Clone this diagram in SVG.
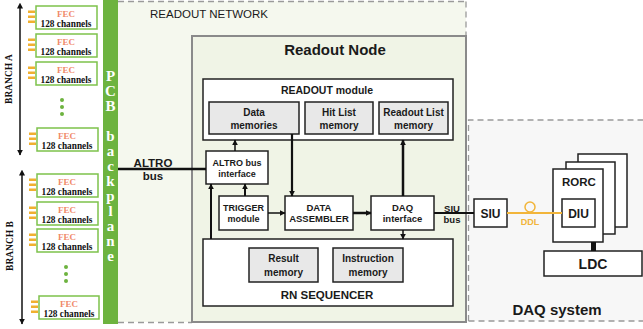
<svg xmlns="http://www.w3.org/2000/svg" width="643" height="329" viewBox="0 0 643 329">
<style>
.sans{font-family:"Liberation Sans",Arial,sans-serif;font-weight:bold;fill:#1a1a1a;text-anchor:middle}
.serif{font-family:"Liberation Serif","Times New Roman",serif;font-weight:bold;text-anchor:middle}
.fec{fill:#fff;stroke:#7dc24b;stroke-width:1.5}
.fect{fill:#f0896a;font-size:9px}
.chn{fill:#111;font-size:9.3px}
.pin{fill:#f0b030}
.dot{fill:#6db33f}
.box{fill:#fff;stroke:#222;stroke-width:1.5}
.mem{fill:#e8e8e8;stroke:#222;stroke-width:1.5}
.dash{fill:none;stroke:#9a9a9a;stroke-width:1.3;stroke-dasharray:6 4}
.pcb{fill:#fff;font-size:15px;writing-mode:vertical-rl;text-orientation:upright;text-anchor:start;font-family:"Liberation Serif","Times New Roman",serif;font-weight:bold}
.c{stroke:#111;fill:none}
</style>
<defs>
<marker id="ah" viewBox="0 0 10 10" refX="9" refY="5" markerWidth="6" markerHeight="6" markerUnits="userSpaceOnUse" orient="auto">
<path d="M0,0 L10,5 L0,10 z" fill="#111"/>
</marker>
<marker id="ah2" viewBox="0 0 10 10" refX="1" refY="5" markerWidth="6" markerHeight="6" markerUnits="userSpaceOnUse" orient="auto-start-reverse">
<path d="M0,0 L10,5 L0,10 z" fill="#111"/>
</marker>
</defs>
<rect width="643" height="329" fill="#fff"/>

<!-- Readout network area -->
<g id="readout-network">
<rect x="118" y="1" width="348" height="321" fill="#f5f8ee"/>
<path class="dash" d="M118,1.5 H466 M466,1.5 V36 M118,322.5 H192"/>
<text x="150" y="18" style="font-family:'Liberation Sans',Arial,sans-serif;font-size:11.5px;fill:#1a1a1a">READOUT NETWORK</text>
</g>

<!-- DAQ system area -->
<g id="daq-system">
<rect x="468.5" y="120" width="180" height="201" fill="#f7f7f7"/>
<path class="dash" d="M468.5,321 V120 H643 M468.5,321 H643"/>
<text class="sans" x="557" y="315" style="font-size:15px">DAQ system</text>
</g>

<!-- Readout node -->
<g id="readout-node">
<rect x="192" y="36" width="274" height="286" fill="#f0f4e6" stroke="#8a8a8a" stroke-width="2"/>
<text class="sans" x="335" y="55" style="font-size:15px">Readout Node</text>
</g>

<!-- PCB backplane -->
<g id="pcb-backplane">
<rect x="103" y="0" width="15" height="324" fill="#6db33f"/>
<text class="pcb" x="110.5" y="68" letter-spacing="-1">PCB backplane</text>
</g>

<!-- Branch A -->
<g id="branch-a">
<line x1="20" y1="8" x2="20" y2="155" class="c" stroke-width="1.5" marker-start="url(#ah2)" marker-end="url(#ah)"/>
<text class="serif" x="0" y="0" transform="translate(12,79) rotate(-90)" style="font-size:9.5px;fill:#111">BRANCH A</text>
</g>
<g id="fec-a1"><rect class="fec" x="36" y="6" width="61" height="23"/><rect class="pin" x="28" y="10.5" width="7" height="2.5"/><rect class="pin" x="28" y="15.5" width="7" height="2.5"/><rect class="pin" x="28" y="20.5" width="7" height="2.5"/><text class="serif fect" x="66" y="16.5">FEC</text><text class="serif chn" x="66" y="27">128 channels</text></g>
<g id="fec-a2"><rect class="fec" x="36" y="34" width="61" height="23"/><rect class="pin" x="28" y="38.5" width="7" height="2.5"/><rect class="pin" x="28" y="43.5" width="7" height="2.5"/><rect class="pin" x="28" y="48.5" width="7" height="2.5"/><text class="serif fect" x="66" y="44.5">FEC</text><text class="serif chn" x="66" y="55">128 channels</text></g>
<g id="fec-a3"><rect class="fec" x="36" y="62" width="61" height="23"/><rect class="pin" x="28" y="66.5" width="7" height="2.5"/><rect class="pin" x="28" y="71.5" width="7" height="2.5"/><rect class="pin" x="28" y="76.5" width="7" height="2.5"/><text class="serif fect" x="66" y="72.5">FEC</text><text class="serif chn" x="66" y="83">128 channels</text></g>
<g id="dots-a"><circle class="dot" cx="62" cy="100" r="2"/><circle class="dot" cx="62" cy="107" r="2"/><circle class="dot" cx="62" cy="114" r="2"/></g>
<g id="fec-a4"><rect class="fec" x="37" y="128" width="61" height="23"/><rect class="pin" x="29" y="132.5" width="7" height="2.5"/><rect class="pin" x="29" y="137.5" width="7" height="2.5"/><rect class="pin" x="29" y="142.5" width="7" height="2.5"/><text class="serif fect" x="67" y="138.5">FEC</text><text class="serif chn" x="67" y="149">128 channels</text></g>

<!-- Branch B -->
<g id="branch-b">
<line x1="22" y1="175" x2="22" y2="324" class="c" stroke-width="1.5" marker-start="url(#ah2)" marker-end="url(#ah)"/>
<text class="serif" x="0" y="0" transform="translate(13,246) rotate(-90)" style="font-size:9.5px;fill:#111">BRANCH B</text>
</g>
<g id="fec-b1"><rect class="fec" x="37" y="174" width="61" height="23"/><rect class="pin" x="29" y="178.5" width="7" height="2.5"/><rect class="pin" x="29" y="183.5" width="7" height="2.5"/><rect class="pin" x="29" y="188.5" width="7" height="2.5"/><text class="serif fect" x="67" y="184.5">FEC</text><text class="serif chn" x="67" y="195">128 channels</text></g>
<g id="fec-b2"><rect class="fec" x="37" y="202" width="61" height="23"/><rect class="pin" x="29" y="206.5" width="7" height="2.5"/><rect class="pin" x="29" y="211.5" width="7" height="2.5"/><rect class="pin" x="29" y="216.5" width="7" height="2.5"/><text class="serif fect" x="67" y="212.5">FEC</text><text class="serif chn" x="67" y="223">128 channels</text></g>
<g id="fec-b3"><rect class="fec" x="37" y="229" width="61" height="23"/><rect class="pin" x="29" y="233.5" width="7" height="2.5"/><rect class="pin" x="29" y="238.5" width="7" height="2.5"/><rect class="pin" x="29" y="243.5" width="7" height="2.5"/><text class="serif fect" x="67" y="239.5">FEC</text><text class="serif chn" x="67" y="250">128 channels</text></g>
<g id="dots-b"><circle class="dot" cx="66" cy="267" r="2"/><circle class="dot" cx="66" cy="274" r="2"/><circle class="dot" cx="66" cy="281" r="2"/></g>
<g id="fec-b4"><rect class="fec" x="39" y="296" width="60" height="23"/><rect class="pin" x="31" y="300.5" width="7" height="2.5"/><rect class="pin" x="31" y="305.5" width="7" height="2.5"/><rect class="pin" x="31" y="310.5" width="7" height="2.5"/><text class="serif fect" x="69" y="306.5">FEC</text><text class="serif chn" x="69" y="317">128 channels</text></g>

<!-- READOUT module -->
<g id="readout-module">
<rect class="box" x="203" y="79" width="250" height="61"/>
<text class="sans" x="327" y="94" style="font-size:10.5px">READOUT module</text>
</g>
<g id="data-memories"><rect class="mem" x="209" y="102" width="90" height="32"/><text class="sans" x="254" y="116" style="font-size:10px">Data</text><text class="sans" x="254" y="128.5" style="font-size:10px">memories</text></g>
<g id="hit-list"><rect class="mem" x="305" y="102" width="68" height="32"/><text class="sans" x="339" y="116" style="font-size:10px">Hit List</text><text class="sans" x="339" y="128.5" style="font-size:10px">memory</text></g>
<g id="readout-list"><rect class="mem" x="379" y="102" width="69" height="32"/><text class="sans" x="413.5" y="116" style="font-size:10px">Readout List</text><text class="sans" x="413.5" y="128.5" style="font-size:10px">memory</text></g>

<g id="altro-if"><rect class="box" x="206" y="151" width="62" height="33"/><text class="sans" x="237" y="165.5" style="font-size:9px">ALTRO bus</text><text class="sans" x="237" y="176.5" style="font-size:9px">interface</text></g>
<g id="trigger"><rect class="box" x="219" y="196" width="49" height="34"/><text class="sans" x="243.5" y="210.5" style="font-size:9px">TRIGGER</text><text class="sans" x="243.5" y="221.5" style="font-size:9px">module</text></g>
<g id="data-assembler"><rect class="box" x="285" y="196" width="68" height="34"/><text class="sans" x="319" y="210.5" style="font-size:9.5px">DATA</text><text class="sans" x="319" y="221.5" style="font-size:9.5px">ASSEMBLER</text></g>
<g id="daq-if"><rect class="box" x="371" y="196" width="63" height="34"/><text class="sans" x="402.5" y="210.5" style="font-size:9.5px">DAQ</text><text class="sans" x="402.5" y="221.5" style="font-size:9.5px">interface</text></g>

<g id="rn-sequencer">
<rect class="box" x="203" y="239" width="250" height="67"/>
<text class="sans" x="327" y="299" style="font-size:11.5px">RN SEQUENCER</text>
</g>
<g id="result-memory"><rect class="mem" x="249" y="248" width="69" height="34"/><text class="sans" x="283.5" y="262" style="font-size:10px">Result</text><text class="sans" x="283.5" y="275.5" style="font-size:10px">memory</text></g>
<g id="instruction-memory"><rect class="mem" x="333" y="248" width="70" height="34"/><text class="sans" x="368" y="262" style="font-size:10px">Instruction</text><text class="sans" x="368" y="275.5" style="font-size:10px">memory</text></g>

<g id="siu"><rect class="box" x="474" y="199" width="33" height="28"/><text class="sans" x="490.5" y="217.5" style="font-size:12px">SIU</text></g>

<g id="rorc">
<rect class="box" x="578" y="154" width="49" height="73"/>
<rect class="box" x="566" y="162" width="49" height="72"/>
<rect class="box" x="553" y="169" width="50" height="73"/>
<text class="sans" x="579" y="186" style="font-size:11.5px">RORC</text>
</g>
<g id="diu"><rect class="box" x="562" y="199" width="33" height="28"/><text class="sans" x="578.5" y="217.5" style="font-size:12px">DIU</text></g>
<g id="ldc"><rect class="box" x="544" y="251" width="98" height="25"/><text class="sans" x="593" y="268.5" style="font-size:14px">LDC</text></g>

<!-- connectors -->
<g id="connectors">
<line class="c" x1="118" y1="169" x2="206" y2="169" stroke-width="2.5"/>
<text class="sans" x="153" y="167" style="font-size:11.5px">ALTRO</text>
<text class="sans" x="153" y="180" style="font-size:11.5px">bus</text>
<line class="c" x1="235" y1="151" x2="235" y2="140" stroke-width="1.5" marker-end="url(#ah)"/>
<line class="c" x1="292" y1="134" x2="292" y2="196" stroke-width="2.2" marker-end="url(#ah)"/>
<line class="c" x1="245" y1="196" x2="245" y2="184" stroke-width="2" marker-end="url(#ah)"/>
<line class="c" x1="211" y1="239" x2="211" y2="184" stroke-width="2" marker-end="url(#ah)"/>
<line class="c" x1="268" y1="213" x2="285" y2="213" stroke-width="1.5" marker-end="url(#ah)"/>
<line class="c" x1="353" y1="213" x2="371" y2="213" stroke-width="2.5" marker-end="url(#ah)"/>
<line class="c" x1="403" y1="196" x2="403" y2="140" stroke-width="2.5" marker-end="url(#ah)"/>
<line class="c" x1="403" y1="230" x2="403" y2="239" stroke-width="1.5" marker-end="url(#ah)"/>
<line class="c" x1="434" y1="213" x2="474" y2="213" stroke-width="2"/>
<text class="sans" x="452" y="211.5" style="font-size:9.5px">SIU</text>
<text class="sans" x="452" y="223" style="font-size:9.5px">bus</text>
<line x1="507" y1="213" x2="562" y2="213" stroke="#f2b53a" stroke-width="2"/>
<circle cx="530" cy="207" r="5" fill="none" stroke="#f2b53a" stroke-width="1.5"/>
<text class="sans" x="530" y="225" style="font-size:9px;fill:#f2b53a">DDL</text>
<rect x="591" y="242" width="5" height="9" fill="#111"/>
</g>
</svg>
